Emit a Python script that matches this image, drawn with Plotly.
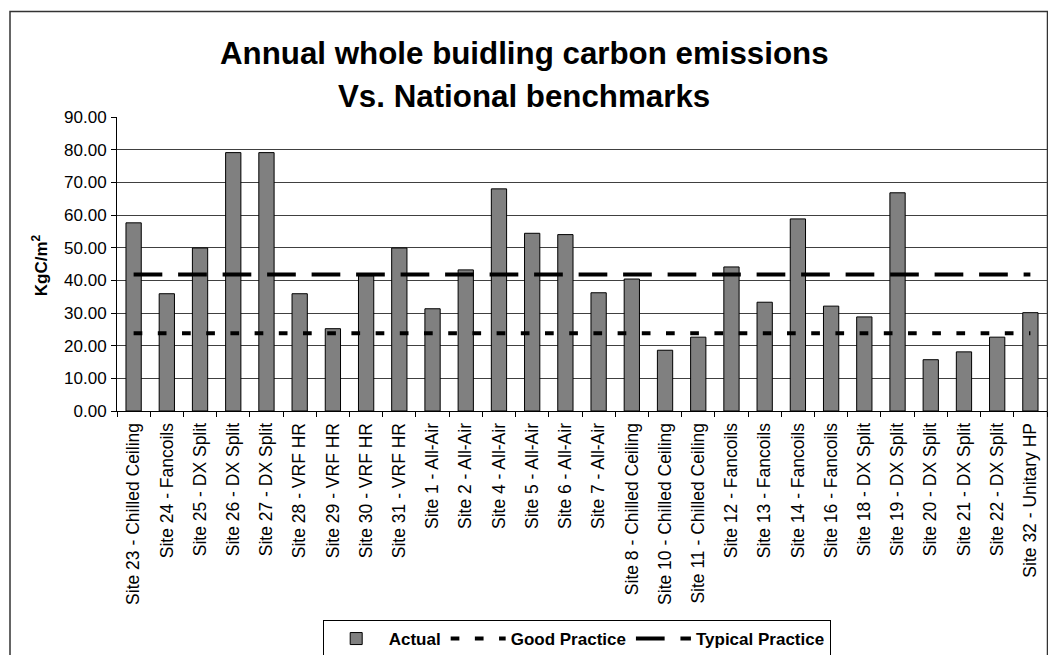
import plotly.graph_objects as go

categories = [
    "Site 23 - Chilled Ceiling", "Site 24 - Fancoils", "Site 25 - DX Split",
    "Site 26 - DX Split", "Site 27 - DX Split", "Site 28 - VRF HR",
    "Site 29 - VRF HR", "Site 30 - VRF HR", "Site 31 - VRF HR",
    "Site 1 - All-Air", "Site 2 - All-Air", "Site 4 - All-Air",
    "Site 5 - All-Air", "Site 6 - All-Air", "Site 7 - All-Air",
    "Site 8 - Chilled Ceiling", "Site 10 - Chilled Ceiling", "Site 11 - Chilled Ceiling",
    "Site 12 - Fancoils", "Site 13 - Fancoils", "Site 14 - Fancoils",
    "Site 16 - Fancoils", "Site 18 - DX Split", "Site 19 - DX Split",
    "Site 20 - DX Split", "Site 21 - DX Split", "Site 22 - DX Split",
    "Site 32 - Unitary HP",
]
actual = [
    57.6, 35.9, 49.9, 79.1, 79.1, 35.9, 25.2, 41.4, 49.9,
    31.3, 43.2, 68.0, 54.4, 54.0, 36.2, 40.4, 18.6, 22.6,
    44.1, 33.3, 58.8, 32.1, 28.8, 66.8, 15.7, 18.1, 22.6, 30.1,
]
good_value = 23.8
typical_value = 41.8
good_practice = [good_value for _ in categories]
typical_practice = [typical_value for _ in categories]
y_ticks = [0, 10, 20, 30, 40, 50, 60, 70, 80, 90]

W, H = 1048, 655
L, R, T, B = 117, 1047, 116.6, 411
PW, PH = R - L, B - T

def px(x):
    return (x - L) / PW

def py(y):
    return (B - y) / PH

FONT = "Liberation Sans, Arial, sans-serif"

fig = go.Figure()
fig.add_trace(go.Bar(
    x=categories, y=actual, name="Actual",
    marker=dict(color="#808080", line=dict(color="#000000", width=1)),
))
fig.add_trace(go.Scatter(
    x=categories, y=good_practice, name="Good Practice", mode="lines",
    line=dict(color="#000000", width=4, dash="8.7px,15.5px"),
))
fig.add_trace(go.Scatter(
    x=categories, y=typical_practice, name="Typical Practice", mode="lines",
    line=dict(color="#000000", width=4, dash="28.7px,15.8px"),
))

fig.update_layout(
    width=W, height=H,
    margin=dict(l=L, r=W - R, t=T, b=H - B, pad=0),
    paper_bgcolor="white", plot_bgcolor="white",
    font=dict(family=FONT, size=17, color="#000000"),
    bargap=0.54,
    showlegend=True,
    hovermode=False,
    legend=dict(
        orientation="h", xref="container", yref="container",
        x=322.7 / W, xanchor="left", y=1 - 620 / H, yanchor="top",
        bordercolor="#000000", borderwidth=1, bgcolor="white",
        font=dict(family=FONT, size=17, color="#000000", weight="bold"),
        itemwidth=55, traceorder="normal",
    ),
    xaxis=dict(
        type="category", tickangle=-90, tickson="boundaries",
        ticks="outside", ticklen=5, tickcolor="#000000",
        showline=True, linecolor="#000000", linewidth=1,
        showgrid=False, automargin=False, ticklabelstandoff=4,
        tickfont=dict(family=FONT, size=17.5, color="#000000"),
    ),
    yaxis=dict(
        range=[0, 90], tickvals=y_ticks, tickformat=".2f",
        ticks="outside", ticklen=5, tickcolor="#000000",
        showline=True, linecolor="#000000", linewidth=1,
        showgrid=True, gridcolor="#404040", gridwidth=1,
        zeroline=False, automargin=False, ticklabelstandoff=1,
        tickfont=dict(family=FONT, size=17, color="#000000"),
    ),
    shapes=[dict(
        type="rect", xref="paper", yref="paper",
        x0=px(10), x1=px(1047.5), y0=py(700), y1=py(11),
        line=dict(color="#333333", width=1.5), fillcolor="rgba(0,0,0,0)",
        layer="below",
    )],
    annotations=[
        dict(text="<b>Annual whole buidling carbon emissions</b>", xref="paper", yref="paper",
             x=px(524), y=py(53), xanchor="center", yanchor="middle", showarrow=False,
             font=dict(family=FONT, size=31.3, color="#000000")),
        dict(text="<b>Vs. National benchmarks</b>", xref="paper", yref="paper",
             x=px(524), y=py(96), xanchor="center", yanchor="middle", showarrow=False,
             font=dict(family=FONT, size=31.3, color="#000000")),
        dict(text="<b>KgC/m<sup>2</sup></b>", xref="paper", yref="paper",
             x=px(40), y=py(265), xanchor="center", yanchor="middle", showarrow=False,
             textangle=-90, font=dict(family=FONT, size=17, color="#000000")),
    ],
)

fig.write_html(
    "out.html",
    config={"displayModeBar": False},
    post_script="document.body.style.margin='0';document.body.style.overflow='hidden';",
)
